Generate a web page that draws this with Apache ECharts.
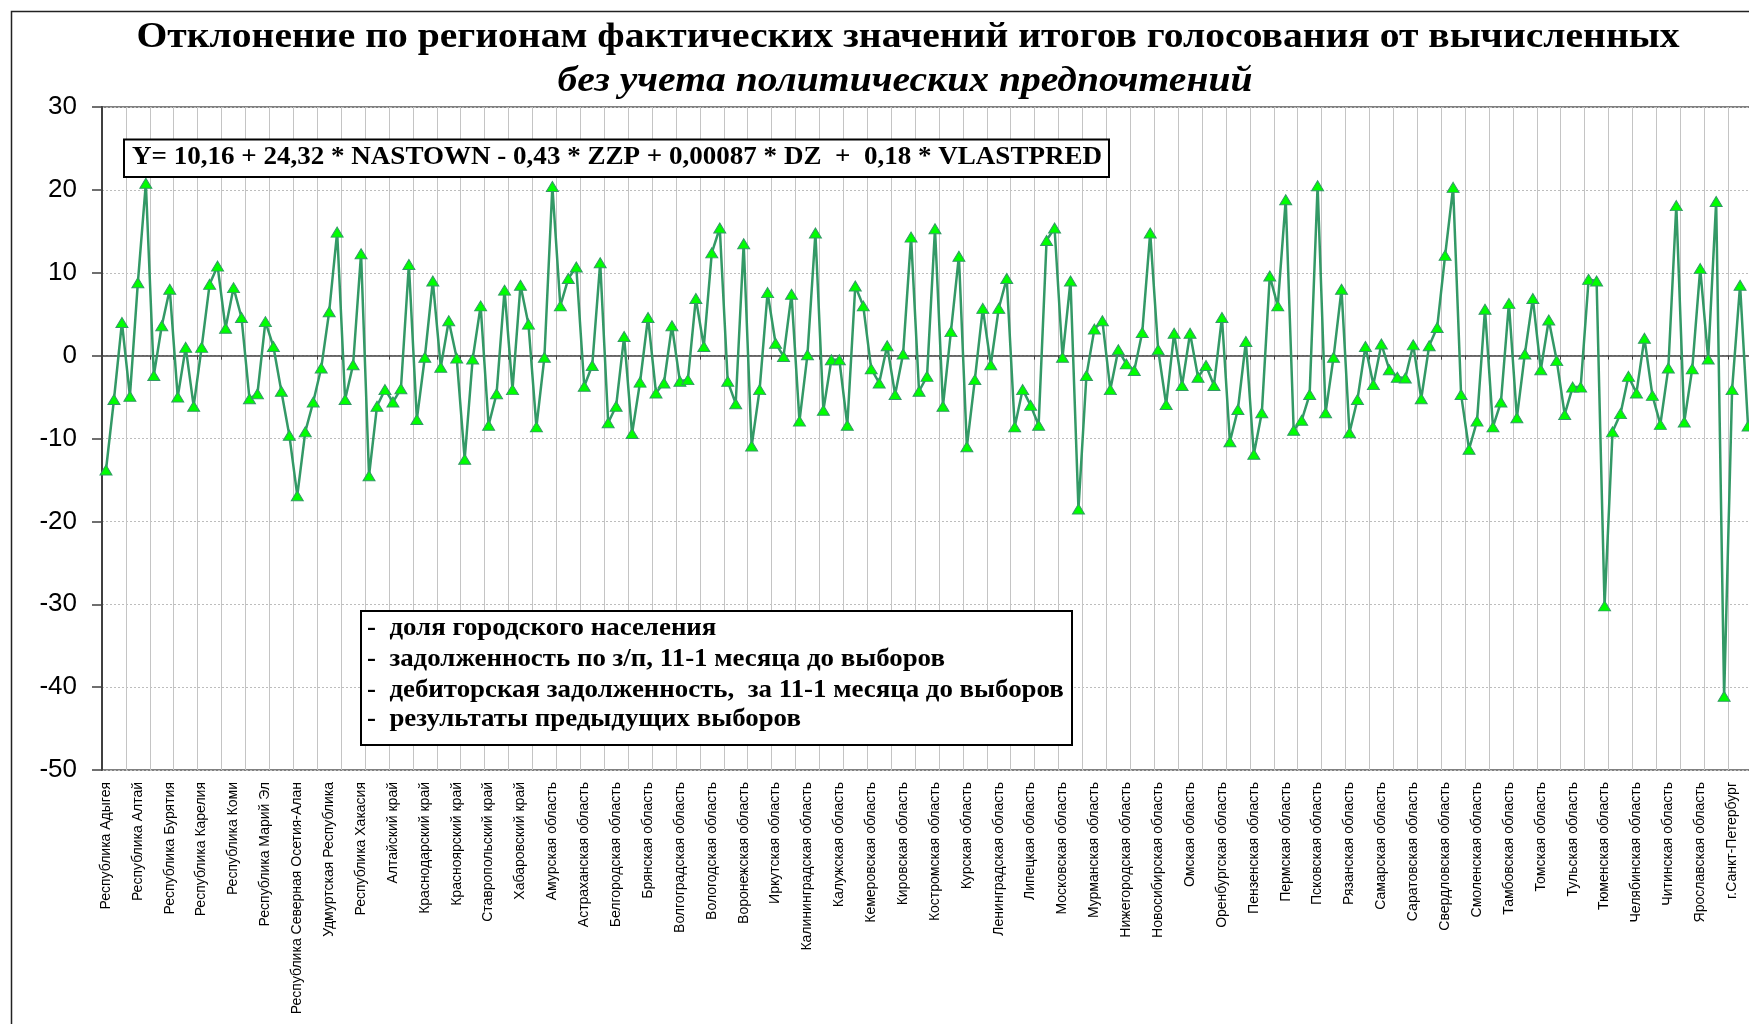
<!DOCTYPE html>
<html>
<head>
<meta charset="utf-8">
<script src="https://cdn.jsdelivr.net/npm/echarts@6/dist/echarts.min.js"></script>
<style>
html,body{margin:0;padding:0;background:#fff;overflow:hidden;width:1749px;height:1024px;}
#chart{width:1760px;height:1024px;}
</style>
</head>
<body>
<div id="chart"></div>
<script>
const titleLine1 = 'Отклонение по регионам фактических значений итогов голосования от вычисленных';
const titleLine2 = 'без учета политических предпочтений';
const equationText = 'Y= 10,16 + 24,32 * NASTOWN - 0,43 * ZZP + 0,00087 * DZ  +  0,18 * VLASTPRED';
const noteLines = [
  '-  доля городского населения',
  '-  задолженность по з/п, 11-1 месяца до выборов',
  '-  дебиторская задолженность,  за 11-1 месяца до выборов',
  '-  результаты предыдущих выборов'
];
const regionLabels = [
  'Республика Адыгея','Республика Алтай','Республика Бурятия','Республика Карелия','Республика Коми',
  'Республика Марий Эл','Республика Северная Осетия-Алан','Удмуртская Республика','Республика Хакасия',
  'Алтайский край','Краснодарский край','Красноярский край','Ставропольский край','Хабаровский край',
  'Амурская область','Астраханская область','Белгородская область','Брянская область','Волгоградская область',
  'Вологодская область','Воронежская область','Иркутская область','Калининградская область','Калужская область',
  'Кемеровская область','Кировская область','Костромская область','Курская область','Ленинградская область',
  'Липецкая область','Московская область','Мурманская область','Нижегородская область','Новосибирская область',
  'Омская область','Оренбургская область','Пензенская область','Пермская область','Псковская область',
  'Рязанская область','Самарская область','Саратовская область','Свердловская область','Смоленская область',
  'Тамбовская область','Томская область','Тульская область','Тюменская область','Челябинская область',
  'Читинская область','Ярославская область','г.Санкт-Петербург'
];
const deviation = [
  -13.8,-5.3,4.0,-4.9,8.8,20.8,-2.4,3.6,8.0,-5.0,
  1.0,-6.1,1.0,8.6,10.8,3.3,8.2,4.6,-5.2,-4.6,
  4.1,1.1,-4.3,-9.6,-16.9,-9.2,-5.6,-1.5,5.3,14.9,
  -5.3,-1.1,12.3,-14.5,-6.1,-4.1,-5.6,-4.0,11.0,-7.7,
  -0.2,9.0,-1.4,4.2,-0.3,-12.5,-0.4,6.0,-8.4,-4.6,
  7.9,-4.1,8.5,3.8,-8.6,-0.2,20.4,6.0,9.3,10.7,
  -3.7,-1.2,11.2,-8.1,-6.1,2.3,-9.4,-3.2,4.6,-4.5,
  -3.3,3.6,-3.1,-2.9,6.9,1.1,12.4,15.4,-3.1,-5.8,
  13.5,-10.9,-4.1,7.6,1.5,-0.1,7.4,-7.9,0.1,14.8,
  -6.6,-0.5,-0.5,-8.4,8.4,6.0,-1.6,-3.3,1.2,-4.7,
  0.2,14.3,-4.3,-2.5,15.3,-6.1,2.9,12.0,-11.0,-2.9,
  5.7,-1.1,5.7,9.3,-8.6,-4.1,-6.0,-8.4,13.9,15.4,
  -0.2,9.0,-18.5,-2.4,3.2,4.2,-4.1,0.7,-1.0,-1.8,
  2.8,14.8,0.7,-5.9,2.7,-3.6,2.7,-2.6,-1.2,-3.6,
  4.6,-10.4,-6.5,1.7,-11.9,-6.9,9.6,6.0,18.8,-9.0,
  -7.8,-4.7,20.5,-6.9,-0.2,8.0,-9.3,-5.3,1.1,-3.5,
  1.4,-1.7,-2.6,-2.7,1.3,-5.2,1.2,3.4,12.1,20.3,
  -4.7,-11.3,-7.9,5.6,-8.6,-5.6,6.3,-7.5,0.2,6.9,
  -1.7,4.3,-0.6,-7.1,-3.8,-3.8,9.2,9.0,-30.2,-9.2,
  -7.0,-2.5,-4.5,2.1,-4.8,-8.3,-1.5,18.1,-8.0,-1.6,
  10.5,-0.4,18.6,-41.1,-4.1,8.5,-8.5
];
// each shown label covers 4 category slots on the axis (labels every 4th category)
const categories = [];
regionLabels.forEach(function (name) { categories.push(name, '', '', ''); });

const chart = echarts.init(document.getElementById('chart'), null, {renderer: 'canvas'});
const serif = '"Liberation Serif", "Times New Roman", serif';
const sans = '"Liberation Sans", Arial, sans-serif';

const option = {
  animation: false,
  backgroundColor: '#ffffff',
  grid: {
    left: 102, top: 107, right: 0, bottom: 254,
    show: true, borderColor: '#808080', borderWidth: 2, backgroundColor: 'transparent'
  },
  xAxis: [
    {
      type: 'category', data: categories, position: 'bottom', boundaryGap: true,
      axisLine: {show: false, onZero: false},
      axisTick: {show: false, interval: 2},
      axisLabel: {interval: 3, rotate: 90, fontSize: 14, fontFamily: sans, color: '#000', margin: 12},
      splitLine: {show: true, interval: 2, lineStyle: {color: '#c4c4c4', width: 1}}
    },
    {
      type: 'category', data: categories, position: 'bottom', boundaryGap: true,
      axisLine: {show: true, onZero: true, lineStyle: {color: '#404040', width: 1.5}},
      axisTick: {show: true, interval: 2, length: 4, lineStyle: {color: '#404040', width: 1}},
      axisLabel: {show: false},
      splitLine: {show: false}
    }
  ],
  yAxis: {
    type: 'value', min: -50, max: 30, interval: 10,
    axisLine: {show: true, lineStyle: {color: '#404040', width: 2}},
    axisTick: {show: true, length: 10, lineStyle: {color: '#404040', width: 1.5}},
    axisLabel: {fontSize: 26, fontFamily: sans, color: '#000', margin: 25},
    splitLine: {show: true, lineStyle: {color: '#bdbdbd', width: 1, type: [2, 2]}}
  },
  series: [{
    type: 'line', xAxisIndex: 0, data: deviation,
    symbol: 'triangle', symbolSize: [12, 10], showAllSymbol: true,
    lineStyle: {color: '#339966', width: 2.5},
    itemStyle: {color: '#00ff00', borderColor: '#339966', borderWidth: 1}
  }],
  graphic: [
    {type: 'rect', z: 100, silent: true, shape: {x: 11.5, y: 11.5, width: 1800, height: 1100},
     style: {fill: 'none', stroke: '#222', lineWidth: 1.5}},
    {type: 'text', z: 100, x: 908, y: 38, scaleX: 1.085, style: {text: titleLine1, font: 'bold 36.5px ' + serif, fill: '#000', align: 'center', verticalAlign: 'middle'}},
    {type: 'text', z: 100, x: 905, y: 82, scaleX: 1.085, style: {text: titleLine2, font: 'italic bold 36.5px ' + serif, fill: '#000', align: 'center', verticalAlign: 'middle'}},
    {type: 'rect', z: 100, shape: {x: 124, y: 139.5, width: 985, height: 37.5},
     style: {fill: '#fff', stroke: '#000', lineWidth: 2}},
    {type: 'text', z: 101, x: 617, y: 157.5, scaleX: 1.04, style: {text: equationText, font: 'bold 26px ' + serif, fill: '#000', align: 'center', verticalAlign: 'middle'}},
    {type: 'rect', z: 100, shape: {x: 361, y: 611, width: 711, height: 134},
     style: {fill: '#fff', stroke: '#000', lineWidth: 2}},
    {type: 'text', z: 101, x: 367, y: 629, scaleX: 1.075, style: {text: noteLines[0], font: 'bold 25px ' + serif, fill: '#000', verticalAlign: 'middle'}},
    {type: 'text', z: 101, x: 367, y: 660, scaleX: 1.075, style: {text: noteLines[1], font: 'bold 25px ' + serif, fill: '#000', verticalAlign: 'middle'}},
    {type: 'text', z: 101, x: 367, y: 691, scaleX: 1.075, style: {text: noteLines[2], font: 'bold 25px ' + serif, fill: '#000', verticalAlign: 'middle'}},
    {type: 'text', z: 101, x: 367, y: 720, scaleX: 1.075, style: {text: noteLines[3], font: 'bold 25px ' + serif, fill: '#000', verticalAlign: 'middle'}}
  ]
};
chart.setOption(option);
</script>
</body>
</html>
